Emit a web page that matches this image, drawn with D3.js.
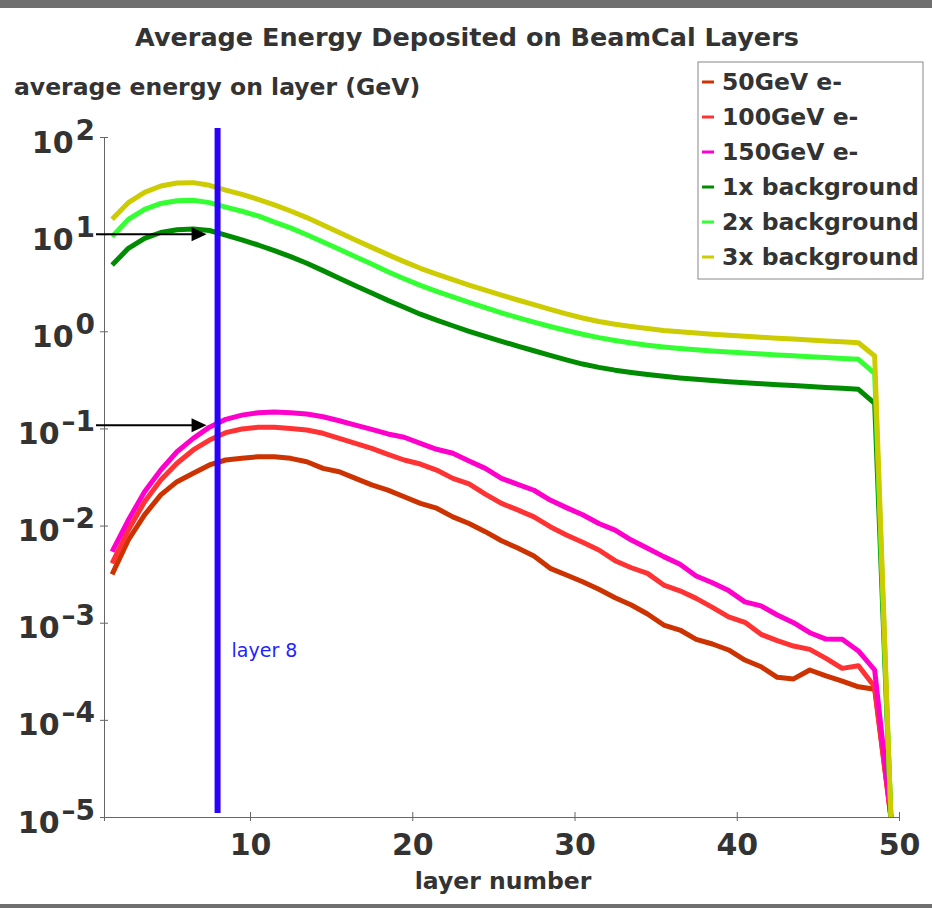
<!DOCTYPE html>
<html>
<head>
<meta charset="utf-8">
<script src="https://cdn.jsdelivr.net/npm/d3@7"></script>
<style>
  html, body { margin: 0; padding: 0; background: #fff; }
  svg { display: block; }
  text { font-family: 'DejaVu Sans', sans-serif; }
</style>
</head>
<body>
<div id="chart"></div>
<script>
// layer bin centres
const layers = [1.5, 2.5, 3.5, 4.5, 5.5, 6.5, 7.5, 8.5, 9.5, 10.5,
  11.5, 12.5, 13.5, 14.5, 15.5, 16.5, 17.5, 18.5, 19.5, 20.5,
  21.5, 22.5, 23.5, 24.5, 25.5, 26.5, 27.5, 28.5, 29.5, 30.5,
  31.5, 32.5, 33.5, 34.5, 35.5, 36.5, 37.5, 38.5, 39.5, 40.5,
  41.5, 42.5, 43.5, 44.5, 45.5, 46.5, 47.5, 48.5, 49.5];

// average energy on layer (GeV)
const e50 = [0.00315, 0.0071, 0.0129, 0.0207, 0.0283, 0.0345, 0.0421, 0.0473, 0.0492, 0.0512,
  0.0512, 0.0492, 0.0454, 0.0388, 0.0358, 0.0306, 0.0262, 0.0232, 0.0198, 0.0169,
  0.0151, 0.0123, 0.0105, 0.00865, 0.00698, 0.00587, 0.00486, 0.00363, 0.0031, 0.00264,
  0.00221, 0.00181, 0.00152, 0.00123, 0.000946, 0.000841, 0.000675, 0.000604, 0.000524, 0.000413,
  0.000352, 0.000274, 0.000264, 0.000326, 0.000284, 0.000251, 0.000219, 0.000207, 0.00001];
const e100 = [0.00408, 0.00899, 0.0176, 0.0294, 0.0438, 0.06, 0.076, 0.0904, 0.0986, 0.103,
  0.103, 0.1, 0.0964, 0.0891, 0.0791, 0.0703, 0.0624, 0.0541, 0.0473, 0.043,
  0.0373, 0.0306, 0.0268, 0.0211, 0.0169, 0.0145, 0.0123, 0.00973, 0.008, 0.00673,
  0.0056, 0.00435, 0.00368, 0.00322, 0.00244, 0.00213, 0.00178, 0.00144, 0.00115, 0.00101,
  0.000759, 0.000653, 0.000575, 0.000532, 0.00043, 0.000339, 0.000361, 0.000219, 0.00001];
const e150 = [0.00538, 0.0114, 0.0223, 0.0373, 0.0575, 0.0791, 0.103, 0.124, 0.137, 0.145,
  0.148, 0.145, 0.141, 0.132, 0.12, 0.108, 0.0979, 0.0877, 0.0811, 0.0703,
  0.061, 0.0555, 0.0462, 0.0388, 0.0306, 0.0266, 0.0231, 0.0183, 0.0153, 0.0129,
  0.0105, 0.00899, 0.0071, 0.00583, 0.00479, 0.00399, 0.00303, 0.00258, 0.00214, 0.00164,
  0.00149, 0.0012, 0.001, 0.000789, 0.000679, 0.000675, 0.000512, 0.000326, 0.00001];
const bg1 = [4.81, 7.14, 9.06, 10.4, 11.1, 11.3, 10.9, 9.79, 8.71, 7.73,
  6.76, 5.86, 5.01, 4.21, 3.51, 2.94, 2.48, 2.08, 1.77, 1.5,
  1.3, 1.14, 1.0, 0.885, 0.789, 0.703, 0.63, 0.565, 0.508, 0.46,
  0.425, 0.398, 0.377, 0.359, 0.344, 0.331, 0.321, 0.311, 0.303, 0.296,
  0.289, 0.282, 0.277, 0.27, 0.264, 0.259, 0.253, 0.181, 0.00001];
const bg2 = [9.42, 14.2, 18.0, 20.7, 22.1, 22.3, 21.1, 19.0, 17.2, 15.4,
  13.3, 11.6, 9.86, 8.3, 6.98, 5.86, 4.93, 4.1, 3.48, 2.97,
  2.58, 2.26, 1.99, 1.75, 1.55, 1.38, 1.24, 1.12, 1.02, 0.931,
  0.861, 0.805, 0.759, 0.719, 0.689, 0.664, 0.644, 0.627, 0.611, 0.597,
  0.585, 0.571, 0.56, 0.548, 0.537, 0.525, 0.514, 0.369, 0.00001];
const bg3 = [14.2, 21.1, 26.9, 31.3, 33.6, 33.9, 31.8, 28.4, 25.7, 22.8,
  20.0, 17.3, 14.8, 12.4, 10.4, 8.71, 7.31, 6.15, 5.21, 4.45,
  3.87, 3.4, 2.99, 2.65, 2.36, 2.1, 1.88, 1.68, 1.51, 1.37,
  1.26, 1.18, 1.12, 1.07, 1.02, 0.989, 0.959, 0.933, 0.91, 0.887,
  0.869, 0.849, 0.832, 0.813, 0.796, 0.78, 0.762, 0.557, 0.00001];

const seriesNames = ['50GeV e-', '100GeV e-', '150GeV e-', '1x background', '2x background', '3x background'];
const seriesValues = [e50, e100, e150, bg1, bg2, bg3];
const seriesColors = ['#cc3300', '#ff3333', '#ff00cc', '#008c00', '#33ff33', '#cccc00'];

const yTickExps = [2, 1, 0, -1, -2, -3, -4, -5];
const xTicks = [10, 20, 30, 40, 50];
const markedLayer = 8;
const arrowLevels = [10, 0.108];

const W = 932, H = 908;
const margin = { top: 137, right: 33, bottom: 91, left: 104 };
const width = W - margin.left - margin.right;
const height = H - margin.top - margin.bottom;
const textColor = '#333';

const x = d3.scaleLinear().domain([1, 50]).range([0, width]);
const y = d3.scaleLog().domain([1e-5, 1e2]).range([height, 0]).clamp(true);

const root = d3.select('#chart').append('svg')
  .attr('width', W)
  .attr('height', H);

root.append('rect').attr('width', W).attr('height', H).attr('fill', '#fff');

// grey strips of the slide around the figure
root.append('rect').attr('x', 0).attr('y', 0).attr('width', W).attr('height', 8).attr('fill', '#6f6f6f');
root.append('rect').attr('x', 0).attr('y', 904).attr('width', W).attr('height', 4).attr('fill', '#6f6f6f');

root.append('text')
  .attr('x', 467)
  .attr('y', 46)
  .attr('text-anchor', 'middle')
  .attr('font-size', 25.5)
  .attr('font-weight', 'bold')
  .attr('fill', textColor)
  .text('Average Energy Deposited on BeamCal Layers');

root.append('text')
  .attr('x', 14)
  .attr('y', 95)
  .attr('font-size', 23.5)
  .attr('font-weight', 'bold')
  .attr('fill', textColor)
  .text('average energy on layer (GeV)');

const svg = root.append('g')
  .attr('transform', `translate(${margin.left}, ${margin.top})`);

// axes
const yAxis = d3.axisLeft(y)
  .tickValues(yTickExps.map(e => Math.pow(10, e)))
  .tickSize(4)
  .tickFormat('');

const yg = svg.append('g').call(yAxis);
yg.select('.domain').attr('stroke', '#666');
yg.selectAll('.tick line').attr('stroke', '#666').attr('x2', 4).attr('x1', -4);
yg.selectAll('.tick').each(function (d) {
  const e = Math.round(Math.log10(d));
  const t = d3.select(this).append('text')
    .attr('x', -9)
    .attr('y', 15)
    .attr('text-anchor', 'end')
    .attr('fill', textColor)
    .attr('font-weight', 'bold')
    .attr('font-size', 30);
  t.append('tspan').text('10');
  t.append('tspan')
    .attr('dy', -13)
    .attr('dx', 2)
    .attr('font-size', 28)
    .text(e < 0 ? '\u2013' + (-e) : String(e));
});

const xAxis = d3.axisBottom(x)
  .tickValues(xTicks)
  .tickSize(4)
  .tickFormat(d3.format('d'));

const xg = svg.append('g')
  .attr('transform', `translate(0, ${height})`)
  .call(xAxis);
xg.select('.domain').attr('stroke', '#666');
xg.selectAll('.tick line').attr('stroke', '#666').attr('y1', -5).attr('y2', 4);
xg.selectAll('.tick text')
  .attr('y', 38)
  .attr('dy', 0)
  .attr('fill', textColor)
  .attr('font-weight', 'bold')
  .attr('font-size', 30)
  .attr('font-family', "'DejaVu Sans', sans-serif");

svg.append('text')
  .attr('x', 399)
  .attr('y', height + 72)
  .attr('text-anchor', 'middle')
  .attr('font-size', 23.5)
  .attr('font-weight', 'bold')
  .attr('fill', textColor)
  .text('layer number');

// curves
const line = d3.line()
  .x((d, i) => x(layers[i]))
  .y(d => y(d));

seriesValues.forEach((vals, k) => {
  svg.append('path')
    .datum(vals)
    .attr('fill', 'none')
    .attr('stroke', seriesColors[k])
    .attr('stroke-width', 5)
    .attr('stroke-linejoin', 'round')
    .attr('d', line);
});

// arrows pointing at layer 8
arrowLevels.forEach(v => {
  const ay = y(v);
  const x0 = x(1) - 8;
  const tip = x(markedLayer) - 11;
  svg.append('line')
    .attr('x1', x0).attr('x2', tip - 12)
    .attr('y1', ay).attr('y2', ay)
    .attr('stroke', '#000')
    .attr('stroke-width', 2);
  svg.append('path')
    .attr('d', `M${tip},${ay} L${tip - 15},${ay - 7} L${tip - 15},${ay + 7} Z`)
    .attr('fill', '#000');
});

// layer 8 marker
svg.append('line')
  .attr('x1', x(markedLayer)).attr('x2', x(markedLayer))
  .attr('y1', -9).attr('y2', height - 4)
  .attr('stroke', '#2a00ff')
  .attr('stroke-width', 6);

svg.append('text')
  .attr('x', x(markedLayer) + 14)
  .attr('y', y(Math.pow(10, -3.35)))
  .attr('font-size', 19)
  .attr('fill', '#1f1fff')
  .text('layer 8');

// legend
const legend = root.append('g')
  .attr('transform', 'translate(698, 62)');

legend.append('rect')
  .attr('width', 225)
  .attr('height', 217)
  .attr('fill', '#fff')
  .attr('stroke', '#888')
  .attr('stroke-width', 1);

seriesNames.forEach((name, k) => {
  const cy = 20 + k * 35;
  legend.append('line')
    .attr('x1', 4).attr('x2', 16)
    .attr('y1', cy).attr('y2', cy)
    .attr('stroke', seriesColors[k])
    .attr('stroke-width', 3);
  legend.append('text')
    .attr('x', 24)
    .attr('y', cy + 8)
    .attr('font-size', 23.5)
    .attr('font-weight', 'bold')
    .attr('fill', textColor)
    .text(name);
});
</script>
</body>
</html>
